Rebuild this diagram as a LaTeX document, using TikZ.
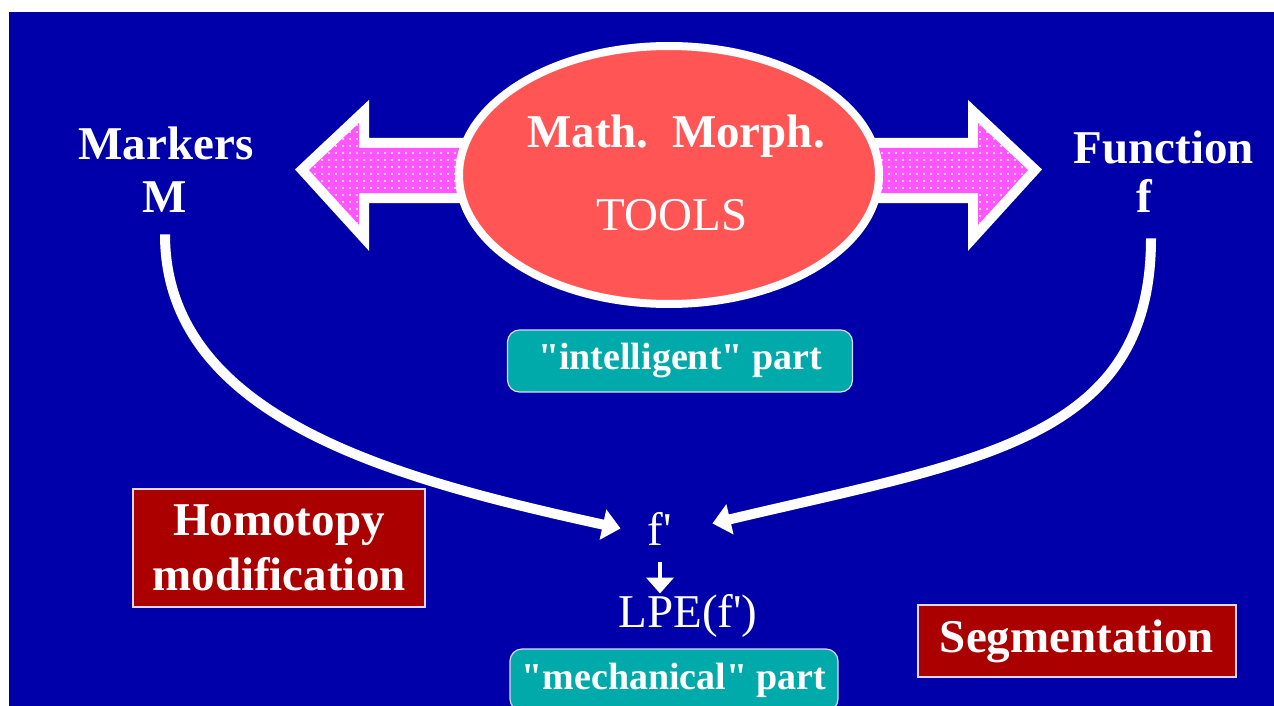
\documentclass[tikz,border=0pt]{standalone}
\usepackage{fontspec}
\setmainfont{Liberation Serif}
\usetikzlibrary{shapes.geometric,arrows.meta,patterns.meta}

\definecolor{slideblue}{RGB}{0,0,170}
\definecolor{toolsred}{RGB}{255,85,85}
\definecolor{arrowpink}{RGB}{255,85,255}
\definecolor{partteal}{RGB}{0,170,170}
\definecolor{boxred}{RGB}{170,0,0}
\definecolor{rimwhite}{RGB}{225,215,245}
\newcommand{\slidefont}{\fontsize{23.5}{27.5}\selectfont}
\newcommand{\partfont}{\fontsize{19}{22}\selectfont\bfseries}

\begin{document}
\begin{tikzpicture}[x=0.5pt, y=-0.5pt, >={Triangle[length=9pt,width=15pt]}]
      \tikzstyle{slidetext}=[text=white, font=\slidefont\bfseries, inner sep=0, anchor=base]
      \tikzstyle{thintext}=[text=white, font=\slidefont, inner sep=0, anchor=base]
      \tikzstyle{bigarrow}=[preaction={draw=white, line width=10pt, line join=miter}, fill=arrowpink, postaction={pattern={Dots[distance=3.5pt, radius=0.55pt]}, pattern color=white}]
      \tikzstyle{partbox}=[draw=rimwhite, line width=0.6pt, fill=partteal, rounded corners=6pt, text=white, font=\partfont, minimum height=31pt, inner sep=0]
      \tikzstyle{opbox}=[draw=rimwhite, line width=0.6pt, fill=boxred, text=white, font=\slidefont\bfseries, align=center, inner sep=0]
      \tikzstyle{curvearrow}=[->, draw=white, line width=5pt]

      \useasboundingbox (0,0) rectangle (1274,706);
      \fill [slideblue] (9,12) rectangle (1274,706);

      % draw double arrow and ellipse

      \foreach \s in {1,-1}
      \path [bigarrow, shift={(668.5,0)}, xscale=\s] (-359.5,170) -- (-309.5,123) -- (-309.5,148) -- (-170,148) -- (-170,193) -- (-309.5,193) -- (-309.5,225) -- cycle;

      \node [ellipse, draw=white, line width=4pt, fill=toolsred, minimum width=210pt, minimum height=129pt, inner sep=0] (tools) at (669,175) {};

      % draw text

      \node [slidetext] (math) at (676,148) {Math.\ \ Morph.};
      \node [thintext] (toolstext) at (672,230) {TOOLS};
      \node [slidetext] (markers) at (166,159) {Markers};
      \node [slidetext] (M) at (165,212) {M};
      \node [slidetext] (function) at (1164,163) {Function};
      \node [slidetext] (f) at (1144,213) {f};
      \node [thintext] (fprime) at (660,545) {f\textquotesingle};
      \node [thintext] (lpe) at (688,627) {LPE(f\textquotesingle)};

      \node [partbox, minimum width=172.5pt] (intelligent) at (680,361) {\textquotedbl intelligent\textquotedbl{} part};
      \node [partbox, minimum width=164pt] (mechanical) at (674,680) {\textquotedbl mechanical\textquotedbl{} part};
      \node [opbox, minimum width=146pt, minimum height=59pt] (homotopy) at (279,548) {Homotopy\\modification};
      \node [opbox, minimum width=159pt, minimum height=36pt] (segmentation) at (1077,641) {Segmentation};

      % draw lines

      \draw [curvearrow] ([yshift=-11pt]M.south) .. controls (165,420) and (400,480) .. ([xshift=-13.5pt]fprime.west);
      \draw [curvearrow] ([xshift=3.5pt,yshift=-12.5pt]f.south) .. controls (1151,440) and (980,460) .. ([xshift=20pt,yshift=2.5pt]fprime.east);
      \draw [->, >={Triangle[length=8pt,width=13.5pt]}, draw=white, line width=2pt] ([yshift=-8.5pt]fprime.south) -- (fprime.south |- lpe.north);

    \end{tikzpicture}
\end{document}
